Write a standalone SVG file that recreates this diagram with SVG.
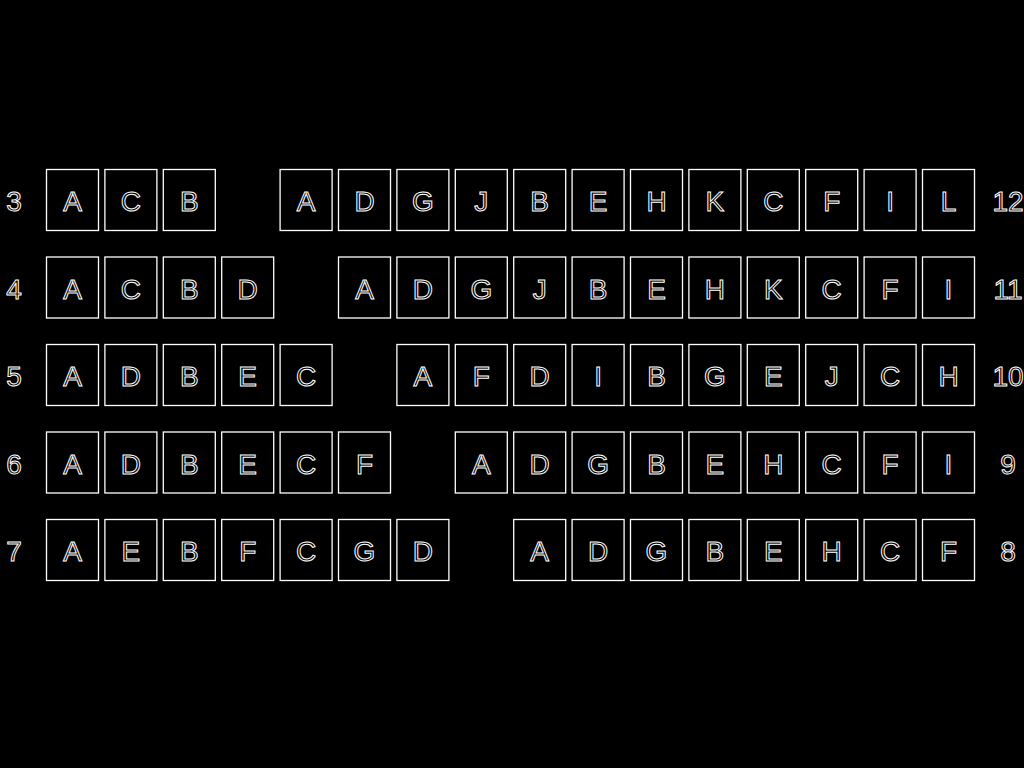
<svg xmlns="http://www.w3.org/2000/svg" width="1024" height="768" viewBox="0 0 1024 768">
<style>
.bg{fill:#000}
.box{fill:#000;stroke:#fff;stroke-width:1.3}
.t{font-family:"Liberation Sans",Arial,sans-serif;font-size:28px;fill:#000;stroke:#fff;stroke-width:1;text-anchor:middle}
</style>
<rect class="bg" x="0" y="0" width="1024" height="768"/>
<g id="labels">
<text class="t" x="14" y="211">3</text><text class="t" x="1008" y="211">12</text>
<text class="t" x="14" y="298.5">4</text><text class="t" x="1008" y="298.5">11</text>
<text class="t" x="14" y="386">5</text><text class="t" x="1008" y="386">10</text>
<text class="t" x="14" y="473.5">6</text><text class="t" x="1008" y="473.5">9</text>
<text class="t" x="14" y="561">7</text><text class="t" x="1008" y="561">8</text>
</g>
<g id="row3">
<g id="r3-0"><rect class="box" x="46.5" y="169.5" width="52" height="61"/><text class="t" x="72.5" y="211">A</text></g>
<g id="r3-1"><rect class="box" x="104.9" y="169.5" width="52" height="61"/><text class="t" x="130.9" y="211">C</text></g>
<g id="r3-2"><rect class="box" x="163.3" y="169.5" width="52" height="61"/><text class="t" x="189.3" y="211">B</text></g>
<g id="r12-0"><rect class="box" x="280.1" y="169.5" width="52" height="61"/><text class="t" x="306.1" y="211">A</text></g>
<g id="r12-1"><rect class="box" x="338.5" y="169.5" width="52" height="61"/><text class="t" x="364.5" y="211">D</text></g>
<g id="r12-2"><rect class="box" x="396.9" y="169.5" width="52" height="61"/><text class="t" x="422.9" y="211">G</text></g>
<g id="r12-3"><rect class="box" x="455.3" y="169.5" width="52" height="61"/><text class="t" x="481.3" y="211">J</text></g>
<g id="r12-4"><rect class="box" x="513.7" y="169.5" width="52" height="61"/><text class="t" x="539.7" y="211">B</text></g>
<g id="r12-5"><rect class="box" x="572.1" y="169.5" width="52" height="61"/><text class="t" x="598.1" y="211">E</text></g>
<g id="r12-6"><rect class="box" x="630.5" y="169.5" width="52" height="61"/><text class="t" x="656.5" y="211">H</text></g>
<g id="r12-7"><rect class="box" x="688.9" y="169.5" width="52" height="61"/><text class="t" x="714.9" y="211">K</text></g>
<g id="r12-8"><rect class="box" x="747.3" y="169.5" width="52" height="61"/><text class="t" x="773.3" y="211">C</text></g>
<g id="r12-9"><rect class="box" x="805.7" y="169.5" width="52" height="61"/><text class="t" x="831.7" y="211">F</text></g>
<g id="r12-10"><rect class="box" x="864.1" y="169.5" width="52" height="61"/><text class="t" x="890.1" y="211">I</text></g>
<g id="r12-11"><rect class="box" x="922.5" y="169.5" width="52" height="61"/><text class="t" x="948.5" y="211">L</text></g>
</g>
<g id="row4">
<g id="r4-0"><rect class="box" x="46.5" y="257" width="52" height="61"/><text class="t" x="72.5" y="298.5">A</text></g>
<g id="r4-1"><rect class="box" x="104.9" y="257" width="52" height="61"/><text class="t" x="130.9" y="298.5">C</text></g>
<g id="r4-2"><rect class="box" x="163.3" y="257" width="52" height="61"/><text class="t" x="189.3" y="298.5">B</text></g>
<g id="r4-3"><rect class="box" x="221.7" y="257" width="52" height="61"/><text class="t" x="247.7" y="298.5">D</text></g>
<g id="r11-0"><rect class="box" x="338.5" y="257" width="52" height="61"/><text class="t" x="364.5" y="298.5">A</text></g>
<g id="r11-1"><rect class="box" x="396.9" y="257" width="52" height="61"/><text class="t" x="422.9" y="298.5">D</text></g>
<g id="r11-2"><rect class="box" x="455.3" y="257" width="52" height="61"/><text class="t" x="481.3" y="298.5">G</text></g>
<g id="r11-3"><rect class="box" x="513.7" y="257" width="52" height="61"/><text class="t" x="539.7" y="298.5">J</text></g>
<g id="r11-4"><rect class="box" x="572.1" y="257" width="52" height="61"/><text class="t" x="598.1" y="298.5">B</text></g>
<g id="r11-5"><rect class="box" x="630.5" y="257" width="52" height="61"/><text class="t" x="656.5" y="298.5">E</text></g>
<g id="r11-6"><rect class="box" x="688.9" y="257" width="52" height="61"/><text class="t" x="714.9" y="298.5">H</text></g>
<g id="r11-7"><rect class="box" x="747.3" y="257" width="52" height="61"/><text class="t" x="773.3" y="298.5">K</text></g>
<g id="r11-8"><rect class="box" x="805.7" y="257" width="52" height="61"/><text class="t" x="831.7" y="298.5">C</text></g>
<g id="r11-9"><rect class="box" x="864.1" y="257" width="52" height="61"/><text class="t" x="890.1" y="298.5">F</text></g>
<g id="r11-10"><rect class="box" x="922.5" y="257" width="52" height="61"/><text class="t" x="948.5" y="298.5">I</text></g>
</g>
<g id="row5">
<g id="r5-0"><rect class="box" x="46.5" y="344.5" width="52" height="61"/><text class="t" x="72.5" y="386">A</text></g>
<g id="r5-1"><rect class="box" x="104.9" y="344.5" width="52" height="61"/><text class="t" x="130.9" y="386">D</text></g>
<g id="r5-2"><rect class="box" x="163.3" y="344.5" width="52" height="61"/><text class="t" x="189.3" y="386">B</text></g>
<g id="r5-3"><rect class="box" x="221.7" y="344.5" width="52" height="61"/><text class="t" x="247.7" y="386">E</text></g>
<g id="r5-4"><rect class="box" x="280.1" y="344.5" width="52" height="61"/><text class="t" x="306.1" y="386">C</text></g>
<g id="r10-0"><rect class="box" x="396.9" y="344.5" width="52" height="61"/><text class="t" x="422.9" y="386">A</text></g>
<g id="r10-1"><rect class="box" x="455.3" y="344.5" width="52" height="61"/><text class="t" x="481.3" y="386">F</text></g>
<g id="r10-2"><rect class="box" x="513.7" y="344.5" width="52" height="61"/><text class="t" x="539.7" y="386">D</text></g>
<g id="r10-3"><rect class="box" x="572.1" y="344.5" width="52" height="61"/><text class="t" x="598.1" y="386">I</text></g>
<g id="r10-4"><rect class="box" x="630.5" y="344.5" width="52" height="61"/><text class="t" x="656.5" y="386">B</text></g>
<g id="r10-5"><rect class="box" x="688.9" y="344.5" width="52" height="61"/><text class="t" x="714.9" y="386">G</text></g>
<g id="r10-6"><rect class="box" x="747.3" y="344.5" width="52" height="61"/><text class="t" x="773.3" y="386">E</text></g>
<g id="r10-7"><rect class="box" x="805.7" y="344.5" width="52" height="61"/><text class="t" x="831.7" y="386">J</text></g>
<g id="r10-8"><rect class="box" x="864.1" y="344.5" width="52" height="61"/><text class="t" x="890.1" y="386">C</text></g>
<g id="r10-9"><rect class="box" x="922.5" y="344.5" width="52" height="61"/><text class="t" x="948.5" y="386">H</text></g>
</g>
<g id="row6">
<g id="r6-0"><rect class="box" x="46.5" y="432" width="52" height="61"/><text class="t" x="72.5" y="473.5">A</text></g>
<g id="r6-1"><rect class="box" x="104.9" y="432" width="52" height="61"/><text class="t" x="130.9" y="473.5">D</text></g>
<g id="r6-2"><rect class="box" x="163.3" y="432" width="52" height="61"/><text class="t" x="189.3" y="473.5">B</text></g>
<g id="r6-3"><rect class="box" x="221.7" y="432" width="52" height="61"/><text class="t" x="247.7" y="473.5">E</text></g>
<g id="r6-4"><rect class="box" x="280.1" y="432" width="52" height="61"/><text class="t" x="306.1" y="473.5">C</text></g>
<g id="r6-5"><rect class="box" x="338.5" y="432" width="52" height="61"/><text class="t" x="364.5" y="473.5">F</text></g>
<g id="r9-0"><rect class="box" x="455.3" y="432" width="52" height="61"/><text class="t" x="481.3" y="473.5">A</text></g>
<g id="r9-1"><rect class="box" x="513.7" y="432" width="52" height="61"/><text class="t" x="539.7" y="473.5">D</text></g>
<g id="r9-2"><rect class="box" x="572.1" y="432" width="52" height="61"/><text class="t" x="598.1" y="473.5">G</text></g>
<g id="r9-3"><rect class="box" x="630.5" y="432" width="52" height="61"/><text class="t" x="656.5" y="473.5">B</text></g>
<g id="r9-4"><rect class="box" x="688.9" y="432" width="52" height="61"/><text class="t" x="714.9" y="473.5">E</text></g>
<g id="r9-5"><rect class="box" x="747.3" y="432" width="52" height="61"/><text class="t" x="773.3" y="473.5">H</text></g>
<g id="r9-6"><rect class="box" x="805.7" y="432" width="52" height="61"/><text class="t" x="831.7" y="473.5">C</text></g>
<g id="r9-7"><rect class="box" x="864.1" y="432" width="52" height="61"/><text class="t" x="890.1" y="473.5">F</text></g>
<g id="r9-8"><rect class="box" x="922.5" y="432" width="52" height="61"/><text class="t" x="948.5" y="473.5">I</text></g>
</g>
<g id="row7">
<g id="r7-0"><rect class="box" x="46.5" y="519.5" width="52" height="61"/><text class="t" x="72.5" y="561">A</text></g>
<g id="r7-1"><rect class="box" x="104.9" y="519.5" width="52" height="61"/><text class="t" x="130.9" y="561">E</text></g>
<g id="r7-2"><rect class="box" x="163.3" y="519.5" width="52" height="61"/><text class="t" x="189.3" y="561">B</text></g>
<g id="r7-3"><rect class="box" x="221.7" y="519.5" width="52" height="61"/><text class="t" x="247.7" y="561">F</text></g>
<g id="r7-4"><rect class="box" x="280.1" y="519.5" width="52" height="61"/><text class="t" x="306.1" y="561">C</text></g>
<g id="r7-5"><rect class="box" x="338.5" y="519.5" width="52" height="61"/><text class="t" x="364.5" y="561">G</text></g>
<g id="r7-6"><rect class="box" x="396.9" y="519.5" width="52" height="61"/><text class="t" x="422.9" y="561">D</text></g>
<g id="r8-0"><rect class="box" x="513.7" y="519.5" width="52" height="61"/><text class="t" x="539.7" y="561">A</text></g>
<g id="r8-1"><rect class="box" x="572.1" y="519.5" width="52" height="61"/><text class="t" x="598.1" y="561">D</text></g>
<g id="r8-2"><rect class="box" x="630.5" y="519.5" width="52" height="61"/><text class="t" x="656.5" y="561">G</text></g>
<g id="r8-3"><rect class="box" x="688.9" y="519.5" width="52" height="61"/><text class="t" x="714.9" y="561">B</text></g>
<g id="r8-4"><rect class="box" x="747.3" y="519.5" width="52" height="61"/><text class="t" x="773.3" y="561">E</text></g>
<g id="r8-5"><rect class="box" x="805.7" y="519.5" width="52" height="61"/><text class="t" x="831.7" y="561">H</text></g>
<g id="r8-6"><rect class="box" x="864.1" y="519.5" width="52" height="61"/><text class="t" x="890.1" y="561">C</text></g>
<g id="r8-7"><rect class="box" x="922.5" y="519.5" width="52" height="61"/><text class="t" x="948.5" y="561">F</text></g>
</g>
<g id="connectors"></g>
</svg>
